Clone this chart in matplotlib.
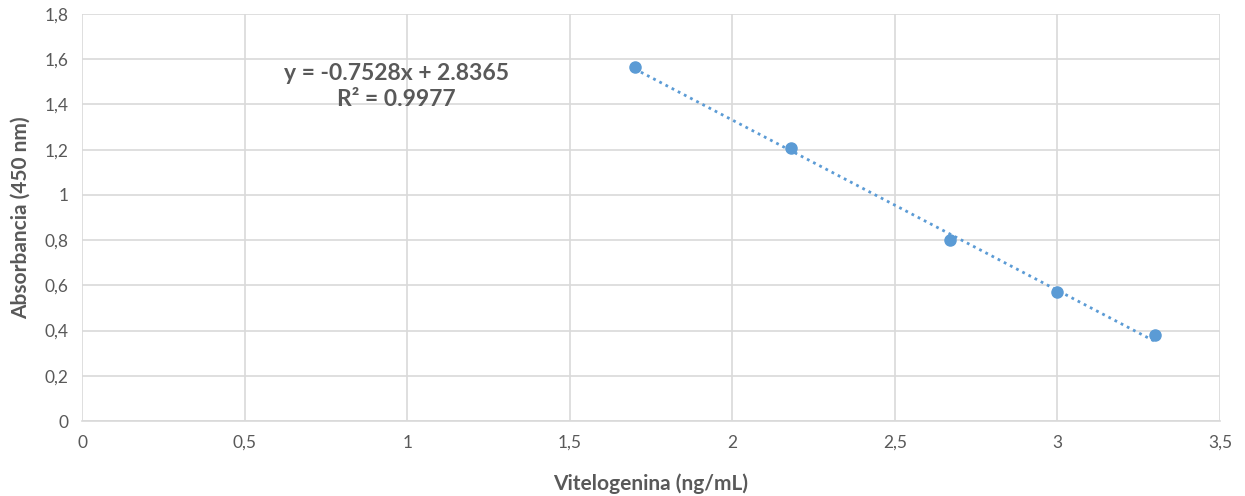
import numpy as np
import matplotlib
matplotlib.use("Agg")
import matplotlib.pyplot as plt

# concentration vs absorbance points
vitelogenina = [1.70, 2.18, 2.67, 3.00, 3.30]
absorbancia = [1.565, 1.205, 0.80, 0.572, 0.38]

# linear trendline coefficients
slope = -0.7528
intercept = 2.8365
r2 = 0.9977

xticks = [0, 0.5, 1, 1.5, 2, 2.5, 3, 3.5]
yticks = [0, 0.2, 0.4, 0.6, 0.8, 1, 1.2, 1.4, 1.6, 1.8]

plt.rcParams['font.family'] = ['Lato', 'DejaVu Sans']
text_col = '#595959'
blue = '#5B9BD5'

fig = plt.figure(figsize=(12.45, 4.96), dpi=100)
ax = fig.add_axes([0.0659, 0.151, 0.914, 0.821])

xs = np.array([min(vitelogenina), max(vitelogenina)])
ax.plot(xs, slope * xs + intercept, color=blue, linestyle=(0, (1, 1.5)),
        linewidth=2, zorder=2)
ax.plot(vitelogenina, absorbancia, 'o', color=blue, markersize=8, zorder=3)

ax.set_xlim(0, 3.5)
ax.set_ylim(0, 1.8)
ax.set_xticks(xticks)
ax.set_yticks(yticks)
fmt = lambda v: ('%g' % v).replace('.', ',')
ax.set_xticklabels([fmt(v) for v in xticks])
ax.set_yticklabels([fmt(v) for v in yticks])
ax.grid(True, color='#D9D9D9', linewidth=1.2)
ax.set_axisbelow(True)
for side in ['top', 'right', 'left']:
    ax.spines[side].set_visible(False)
ax.spines['bottom'].set_color('#D9D9D9')
ax.spines['bottom'].set_linewidth(1.2)
ax.tick_params(length=0, labelsize=12.5, colors=text_col, pad=10)

ax.set_xlabel('Vitelogenina (ng/mL)', fontsize=15, fontweight='bold',
              color=text_col, labelpad=16)
ax.set_ylabel('Absorbancia (450 nm)', fontsize=15, fontweight='bold',
              color=text_col, labelpad=10)

ax.text(0.966, 1.48, 'y = %.4fx + %.4f\nR² = %.4f' % (slope, intercept, r2),
        ha='center', va='center', fontsize=16.5, fontweight='bold',
        color=text_col, linespacing=1.3)

fig.savefig('out.png', dpi=100, facecolor='white')
